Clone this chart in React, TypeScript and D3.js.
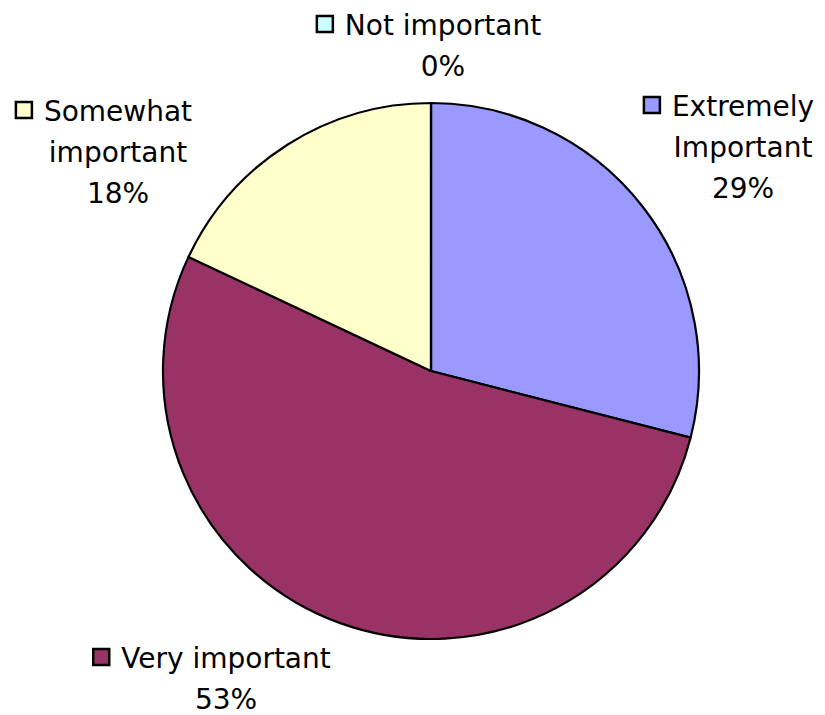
import React, { useEffect, useRef } from 'react';
import * as d3 from 'd3';

// chart data
const categories = ['Extremely Important', 'Very important', 'Somewhat important', 'Not important'];
const shares = [29, 53, 18, 0];
const colors = ['#9999FF', '#993366', '#FFFFCC', '#CCFFFF'];
// how Excel broke each label into lines
const labelLines = [['Extremely', 'Important'], ['Very important'], ['Somewhat', 'important'], ['Not important']];

const width = 825;
const height = 715;
const cx = 431;
const cy = 371;
const radius = 268;

// label blocks: centre x and first baseline
const labelSpots: [number, number][] = [
  [743, 116],
  [226, 668],
  [118, 121],
  [443, 35],
];

export default function App() {
  const ref = useRef<SVGSVGElement>(null);

  useEffect(() => {
    const svg = d3.select(ref.current);
    svg.selectAll('*').remove();

    svg.append('rect').attr('width', width).attr('height', height).attr('fill', '#fff');

    const pie = d3.pie<number>().sort(null).value(d => d);
    const arc = d3.arc<d3.PieArcDatum<number>>().innerRadius(0).outerRadius(radius);

    svg.append('g')
      .attr('transform', `translate(${cx},${cy})`)
      .selectAll('path')
      .data(pie(shares))
      .enter().append('path')
      .attr('d', d => arc(d) || '')
      .attr('fill', (d, i) => colors[i])
      .attr('stroke', '#000')
      .attr('stroke-width', 2.2)
      .attr('stroke-linejoin', 'round');

    const lineH = 41;
    const labels = svg.append('g')
      .attr('font-family', "'DejaVu Sans', sans-serif")
      .attr('font-size', 28)
      .attr('fill', '#000');

    categories.forEach((name, i) => {
      const [x, y] = labelSpots[i];
      const lines = [...labelLines[i], `${shares[i]}%`];
      const g = labels.append('g').attr('class', 'label').attr('data-name', name);
      let first: any = null;
      lines.forEach((t, j) => {
        const el = g.append('text')
          .attr('x', x)
          .attr('y', y + j * lineH)
          .attr('text-anchor', 'middle')
          .text(t);
        if (j === 0) first = el;
      });
      // legend key sits just left of the first line
      const w = (first.node() as SVGTextElement).getComputedTextLength();
      const start = x - w / 2;
      g.append('rect')
        .attr('x', start - 28)
        .attr('y', y - 19)
        .attr('width', 16)
        .attr('height', 16)
        .attr('fill', colors[i])
        .attr('stroke', '#000')
        .attr('stroke-width', 2.5);
    });
  }, []);

  return <svg ref={ref} width={width} height={height} style={{ position: 'absolute', left: 0, top: 0 }} />;
}
